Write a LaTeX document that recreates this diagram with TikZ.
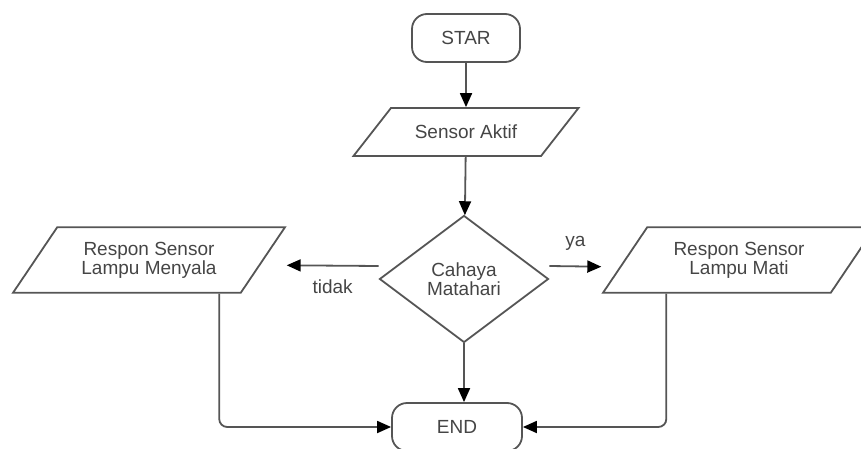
\documentclass[tikz,border=0pt]{standalone}
\usepackage{fontspec}
\setmainfont{Liberation Sans}
\usetikzlibrary{shapes.geometric,arrows.meta}
\definecolor{garis}{HTML}{555555}
\definecolor{teks}{HTML}{454545}
\begin{document}
\begin{tikzpicture}[x=1pt, y=-1pt, line width=1.8pt, color=garis, text=teks,
    font=\fontsize{19}{19}\selectfont,
    terminal/.style={draw, rounded corners=15pt, minimum width=108pt, minimum height=48pt},
    data/.style={draw, trapezium, trapezium stretches body, trapezium left angle=56, trapezium right angle=124,
      minimum width=272pt, inner xsep=0pt, inner ysep=14.7pt, align=center},
    pilih/.style={draw, diamond, minimum width=169pt, minimum height=127pt, inner sep=0pt, align=center},
    panah/.style={-{Triangle[length=14pt, width=12pt, color=black]}}]
      \useasboundingbox (0,0) rectangle (861,449);
      \node[terminal] (star) at (466,38) {STAR};
      \node[data, trapezium left angle=52, trapezium right angle=128, minimum width=225pt, inner ysep=17pt] (aktif) at (466,132) {Sensor Aktif};
      \node[pilih] (cahaya) at (464,279) {Cahaya\\Matahari};
      \node[data] (kiri) at (149,260) {Respon Sensor\\Lampu Menyala};
      \node[data] (kanan) at (739,260) {Respon Sensor\\Lampu Mati};
      \node[terminal, minimum width=130pt] (end) at (457,427) {END};
      \draw[panah] (star) -- (aktif);
      \draw[panah] (aktif) -- (cahaya);
      \draw[panah] (cahaya) -- (cahaya |- end.north);
      \draw[panah] ([yshift=13pt]cahaya.west) -- ([yshift=-39pt]kiri.top right corner) node[midway, yshift=-21pt] {tidak};
      \draw[panah] ([yshift=13pt]cahaya.east) -- ([yshift=27pt]kanan.bottom left corner) node[midway, yshift=23pt] {ya};
      \draw[panah, rounded corners=8pt] ([xshift=-22pt]kiri.bottom right corner) |- (end.west);
      \draw[panah, rounded corners=8pt] ([xshift=65pt]kanan.bottom left corner) |- (end.east);
   \end{tikzpicture}
\end{document}
